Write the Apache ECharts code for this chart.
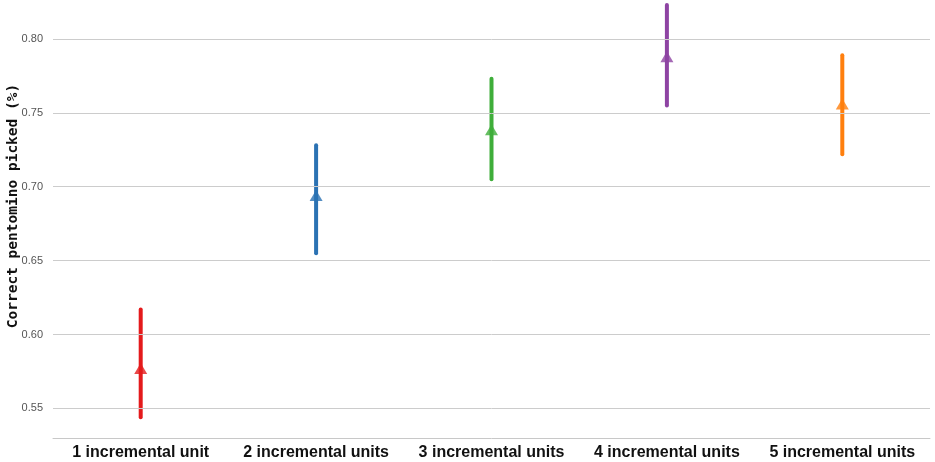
<!DOCTYPE html>
<html><head><meta charset="utf-8">
<script src="https://cdn.jsdelivr.net/npm/echarts@6/dist/echarts.min.js"></script>
<style>html,body{margin:0;padding:0;background:#fff}#c{width:935px;height:462px}</style>
</head><body><div id="c"></div>
<script>
const categories = ['1 incremental unit','2 incremental units','3 incremental units','4 incremental units','5 incremental units'];
const means = [0.577, 0.694, 0.7385, 0.788, 0.756];
const lower = [0.544, 0.655, 0.705, 0.755, 0.722];
const upper = [0.617, 0.728, 0.773, 0.823, 0.789];
const colors = ['#e41a1c','#2b72b3','#3fae3a','#8e44a3','#ff7f0e'];
const yTicks = [0.55, 0.60, 0.65, 0.70, 0.75, 0.80];

const chart = echarts.init(document.getElementById('c'));
chart.setOption({
  animation: false,
  grid: {left: 53, right: 5, top: 2, bottom: 24, outerBoundsMode: 'none', containLabel: false},
  xAxis: {
    type: 'category', data: categories,
    axisLine: {show: true, lineStyle: {color: '#c8c8c8', width: 1}},
    axisTick: {show: false},
    axisLabel: {interval: 0, color: '#111', fontFamily: 'Liberation Sans', fontWeight: 'bold', fontSize: 16, margin: 7}
  },
  yAxis: {
    type: 'value', min: 0.53, max: 0.825,
    name: 'Correct pentomino picked (%)', nameLocation: 'middle', nameGap: 32, nameMoveOverlap: false,
    nameTextStyle: {fontFamily: 'DejaVu Sans Mono', fontWeight: 'bold', fontSize: 14.5, color: '#111', padding: [0, 0, 0, 28]},
    axisLine: {show: false}, axisTick: {show: false},
    splitLine: {show: false},
    axisLabel: {customValues: yTicks, formatter: v => v.toFixed(2), color: '#555', fontFamily: 'Liberation Sans', fontSize: 11, margin: 10}
  },
  series: [
    {
      type: 'custom',
      data: categories.map((c, i) => [i, lower[i], upper[i]]),
      renderItem: (params, api) => {
        const i = api.value(0);
        const p1 = api.coord([i, api.value(1)]);
        const p2 = api.coord([i, api.value(2)]);
        return {type: 'line', shape: {x1: p1[0], y1: p1[1], x2: p2[0], y2: p2[1]},
          style: {stroke: colors[i], lineWidth: 4, lineCap: 'round'}};
      },
      markLine: {
        silent: true, symbol: 'none', label: {show: false},
        lineStyle: {color: '#cccccc', type: 'solid', width: 1},
        data: yTicks.map(v => ({yAxis: v}))
      },
      z: 2
    },
    {
      type: 'scatter',
      data: means.map((m, i) => ({value: [i, m], itemStyle: {color: colors[i]}})),
      symbol: 'triangle', symbolSize: [13, 11],
      z: 3
    }
  ]
});
</script></body></html>
